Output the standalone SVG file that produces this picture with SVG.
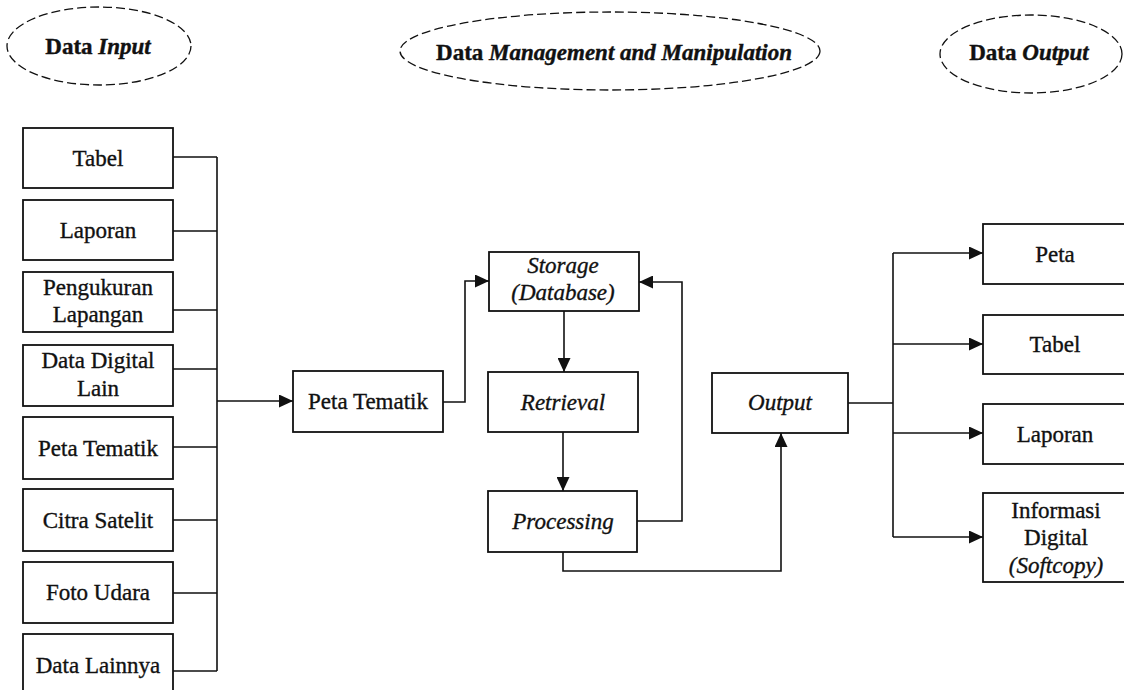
<svg xmlns="http://www.w3.org/2000/svg" width="1124" height="690" viewBox="0 0 1124 690">
<defs>
<style>
.box{fill:#fff;stroke:#111;stroke-width:1.8}
.ell{fill:none;stroke:#111;stroke-width:1.3;stroke-dasharray:9 4}
.t{font-family:"Liberation Serif","Times New Roman",serif;font-size:23px;fill:#111;stroke:#111;stroke-width:0.35;text-anchor:middle}
.i{font-style:italic}
.h{font-family:"Liberation Serif","Times New Roman",serif;font-size:23px;font-weight:bold;fill:#111;stroke:#111;stroke-width:0.4;text-anchor:middle}
.c{fill:none;stroke:#111;stroke-width:1.6}
</style>
<marker id="ar" markerUnits="userSpaceOnUse" markerWidth="15" markerHeight="13" refX="14" refY="6.5" orient="auto">
<path d="M0,0 L14,6.5 L0,13 Z" fill="#111"/>
</marker>
</defs>
<rect width="1124" height="690" fill="#fff"/>

<g id="hdr-input">
<ellipse class="ell" cx="99" cy="46" rx="92" ry="39"/>
<text class="h" x="98" y="54">Data <tspan font-style="italic">Input</tspan></text>
</g>
<g id="hdr-manage">
<ellipse class="ell" cx="610" cy="51" rx="210" ry="39"/>
<text class="h" x="614" y="60">Data <tspan font-style="italic">Management and Manipulation</tspan></text>
</g>
<g id="hdr-output">
<ellipse class="ell" cx="1031" cy="54" rx="91" ry="39"/>
<text class="h" x="1029" y="60">Data <tspan font-style="italic">Output</tspan></text>
</g>

<g id="in-tabel"><rect class="box" x="23" y="128" width="150" height="60"/><text class="t" x="98" y="166">Tabel</text></g>
<g id="in-laporan"><rect class="box" x="23" y="200" width="150" height="60"/><text class="t" x="98" y="238">Laporan</text></g>
<g id="in-pengukuran"><rect class="box" x="23" y="272" width="150" height="60"/><text class="t" x="98" y="295">Pengukuran</text><text class="t" x="98" y="322">Lapangan</text></g>
<g id="in-digital"><rect class="box" x="23" y="345" width="150" height="61"/><text class="t" x="98" y="368">Data Digital</text><text class="t" x="98" y="396">Lain</text></g>
<g id="in-peta"><rect class="box" x="23" y="417" width="150" height="62"/><text class="t" x="98" y="456">Peta Tematik</text></g>
<g id="in-citra"><rect class="box" x="23" y="489" width="150" height="62"/><text class="t" x="98" y="528">Citra Satelit</text></g>
<g id="in-foto"><rect class="box" x="23" y="562" width="150" height="61"/><text class="t" x="98" y="600">Foto Udara</text></g>
<g id="in-lainnya"><rect class="box" x="23" y="634" width="150" height="62"/><text class="t" x="98" y="673">Data Lainnya</text></g>

<g id="peta-tematik"><rect class="box" x="293" y="371" width="150" height="61"/><text class="t" x="368" y="409">Peta Tematik</text></g>
<g id="storage"><rect class="box" x="489" y="252" width="150" height="59"/><text class="t i" x="563" y="273">Storage</text><text class="t i" x="563" y="300">(Database)</text></g>
<g id="retrieval"><rect class="box" x="488" y="372" width="150" height="60"/><text class="t i" x="563" y="410">Retrieval</text></g>
<g id="processing"><rect class="box" x="488" y="491" width="149" height="61"/><text class="t i" x="563" y="529">Processing</text></g>
<g id="output"><rect class="box" x="712" y="373" width="136" height="60"/><text class="t i" x="780" y="410">Output</text></g>

<g id="out-peta"><rect class="box" x="983" y="224" width="146" height="60"/><text class="t" x="1055" y="262">Peta</text></g>
<g id="out-tabel"><rect class="box" x="983" y="315" width="146" height="59"/><text class="t" x="1055" y="352">Tabel</text></g>
<g id="out-laporan"><rect class="box" x="983" y="404" width="146" height="60"/><text class="t" x="1055" y="442">Laporan</text></g>
<g id="out-info"><rect class="box" x="983" y="493" width="146" height="89"/><text class="t" x="1056" y="518">Informasi</text><text class="t" x="1056" y="545">Digital</text><text class="t i" x="1056" y="573">(Softcopy)</text></g>

<g id="connectors">
<path class="c" d="M173,157 H217 M173,231 H217 M173,310 H217 M173,369 H217 M173,447 H217 M173,520 H217 M173,593 H217 M173,671 H217 M217,157 V671"/>
<path class="c" d="M217,401 H293" marker-end="url(#ar)"/>
<path class="c" d="M443,402 H465 V281 H489" marker-end="url(#ar)"/>
<path class="c" d="M564,311 V372" marker-end="url(#ar)"/>
<path class="c" d="M563,432 V491" marker-end="url(#ar)"/>
<path class="c" d="M637,521 H682 V282 H639" marker-end="url(#ar)"/>
<path class="c" d="M563,552 V571 H781 V433" marker-end="url(#ar)"/>
<path class="c" d="M848,403 H893 M893,253 V537"/>
<path class="c" d="M893,253 H983" marker-end="url(#ar)"/>
<path class="c" d="M893,344 H983" marker-end="url(#ar)"/>
<path class="c" d="M893,433 H983" marker-end="url(#ar)"/>
<path class="c" d="M893,537 H983" marker-end="url(#ar)"/>
</g>
</svg>
